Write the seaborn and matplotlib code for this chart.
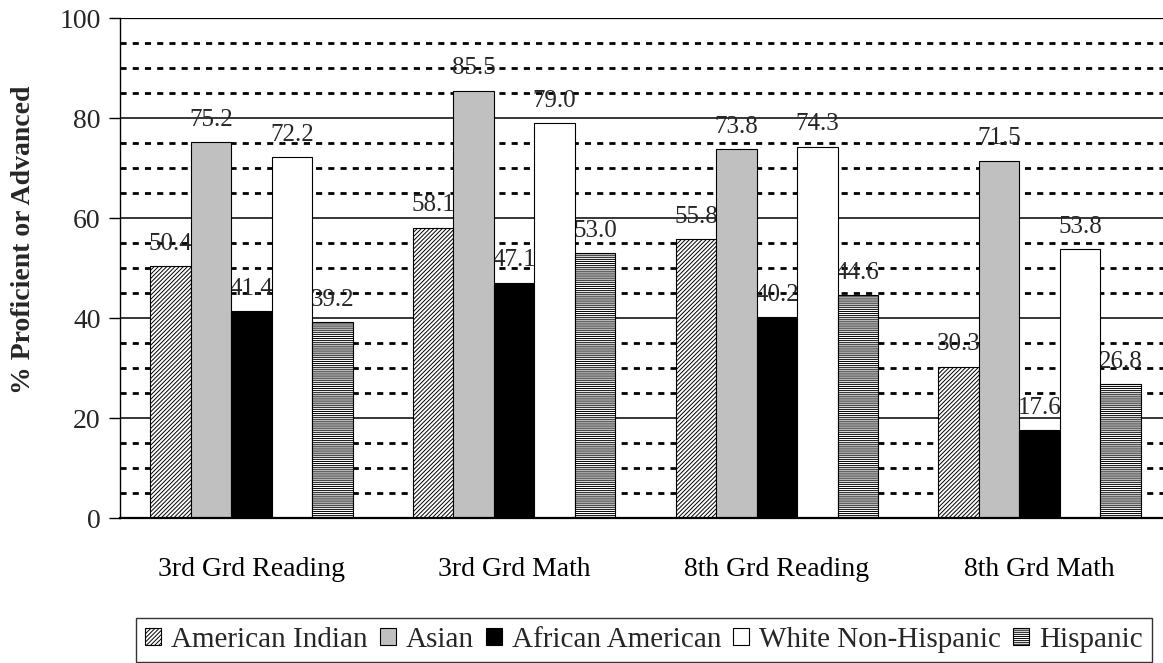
import matplotlib
matplotlib.use("Agg")
import matplotlib.pyplot as plt
from matplotlib.patches import Patch
import seaborn as sns
import pandas as pd

# Test categories and student groups
categories = ["3rd Grd Reading", "3rd Grd Math", "8th Grd Reading", "8th Grd Math"]
groups = ["American Indian", "Asian", "African American", "White Non-Hispanic", "Hispanic"]

american_indian = [50.4, 58.1, 55.8, 30.3]
asian = [75.2, 85.5, 73.8, 71.5]
african_american = [41.4, 47.1, 40.2, 17.6]
white_non_hispanic = [72.2, 79.0, 74.3, 53.8]
hispanic = [39.2, 53.0, 44.6, 26.8]

y_ticks = [0, 20, 40, 60, 80, 100]
y_label = "% Proficient or Advanced"

series = [american_indian, asian, african_american, white_non_hispanic, hispanic]
df = pd.DataFrame(
    [(c, g, v) for g, vals in zip(groups, series) for c, v in zip(categories, vals)],
    columns=["Test", "Group", "Percent"],
)

# Fill colours and hatch patterns per group
fills = ["white", "#C0C0C0", "black", "white", "white"]
hatches = ["////////", "", "", "", "--------"]

sns.set_theme(style="white")
plt.rcParams["font.family"] = ["Liberation Serif", "DejaVu Serif"]
plt.rcParams["hatch.linewidth"] = 0.7
plt.rcParams["hatch.color"] = "black"

fig = plt.figure(figsize=(11.63, 6.63), dpi=100)
ax = fig.add_axes([120 / 1163, 145 / 663, 1051 / 1163, 500 / 663])

sns.barplot(
    data=df, x="Test", y="Percent", hue="Group", order=categories, hue_order=groups,
    palette=dict(zip(groups, fills)), width=0.77, gap=0, edgecolor="black",
    linewidth=0.8, saturation=1, legend=False, ax=ax, zorder=2,
)

for cont, h in zip(ax.containers, hatches):
    for bar in cont:
        bar.set_hatch(h)
        bar.set_zorder(2)
    labels = ax.bar_label(cont, fmt="%.1f", padding=8, fontsize=18)
    for t in labels:
        t.set_zorder(1.5)

# Solid major gridlines and dotted minor gridlines
for v in range(20, 101, 20):
    ax.axhline(v, color="black", lw=1.1 if v < 100 else 1.6, zorder=0.5)
for v in range(5, 100, 5):
    if v % 20:
        ax.axhline(v, color="black", lw=2.0, linestyle=(0, (2.2, 2.2)), zorder=0.5)

ax.set_ylim(0, 100)
ax.set_xlim(-0.5, 3.5)
ax.set_yticks(y_ticks)
ax.set_yticklabels([str(t) for t in y_ticks], fontsize=20)
ax.set_xticks(range(len(categories)))
ax.set_xticklabels(categories, fontsize=20)
ax.set_xticks([-0.5, 0.5, 1.5, 2.5, 3.5], minor=True)
ax.tick_params(axis="x", which="major", length=0, pad=28, colors="black")
ax.tick_params(axis="x", which="minor", length=8, width=1, color="black", direction="out")
ax.tick_params(axis="y", which="major", length=8, width=1, color="black", direction="out", pad=6, left=True)
ax.set_xlabel("")
ax.set_ylabel("")

for side in ["top", "right"]:
    ax.spines[side].set_visible(False)
ax.spines["left"].set_color("black")
ax.spines["left"].set_linewidth(1.0)
ax.spines["bottom"].set_color("black")
ax.spines["bottom"].set_linewidth(1.6)

fig.text(24 / 1163, 1 - 240 / 663, y_label, rotation=90, fontsize=20,
         fontweight="bold", ha="center", va="center")

handles = [Patch(facecolor=f, edgecolor="black", hatch=h, linewidth=0.8, label=g)
           for f, h, g in zip(fills, hatches, groups)]
leg = fig.legend(handles=handles, loc="center", bbox_to_anchor=(644 / 1163, 1 - 640 / 663),
                 ncol=5, fontsize=21, frameon=True, fancybox=False, handlelength=0.55,
                 handleheight=0.55, handletextpad=0.35, columnspacing=0.4, borderpad=0.3,
                 borderaxespad=0)
leg.get_frame().set_edgecolor("black")
leg.get_frame().set_linewidth(1.0)

fig.savefig("out.png", dpi=100)
